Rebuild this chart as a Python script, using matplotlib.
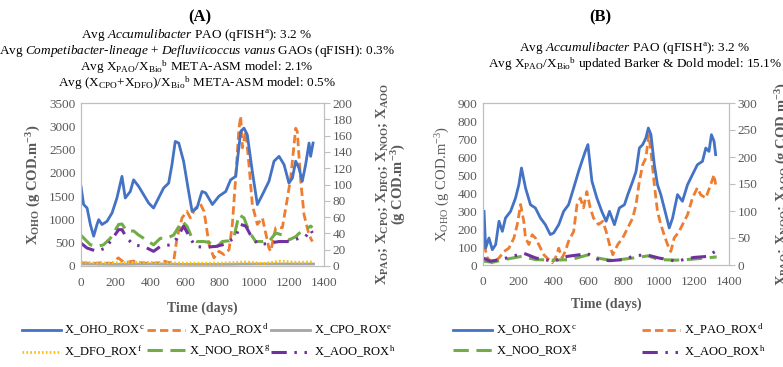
import numpy as np
from matplotlib import pyplot as plt

plt.rcParams['font.family'] = ['Liberation Serif', 'DejaVu Serif']
plt.rcParams['mathtext.fontset'] = 'custom'
plt.rcParams['mathtext.rm'] = 'Liberation Serif'
plt.rcParams['mathtext.it'] = 'Liberation Serif:italic'
plt.rcParams['mathtext.bf'] = 'Liberation Serif:bold'

# ---------------- panel A data ----------------
a_oho_t = [0, 15, 35, 54, 73, 92, 102, 121, 150, 179, 207, 236, 255, 284, 303, 332, 361, 390, 418, 447,
           476, 505, 524, 543, 563, 591, 620, 640, 668, 697, 718, 757, 795, 834, 862, 891, 920, 939, 958,
           987, 1016, 1045, 1083, 1112, 1141, 1170, 1198, 1218, 1237, 1256, 1275, 1294, 1314, 1323, 1337]
a_oho = [1710, 1320, 1245, 890, 640, 890, 995, 890, 960, 1140, 1460, 1925, 1460, 1600, 1850, 1710, 1530,
         1350, 1245, 1460, 1675, 1780, 2175, 2675, 2640, 2250, 1600, 1175, 1245, 1600, 1570, 1320, 1500,
         1600, 1850, 1925, 2890, 2960, 2820, 2030, 1320, 1530, 1820, 2250, 2355, 2175, 1780, 1890, 2250,
         2100, 1820, 2175, 2640, 2355, 2640]

a_pao_t = [0, 60, 120, 180, 215, 250, 300, 350, 400, 450, 480, 510, 534, 553, 582, 610, 630, 659, 688,
           709, 738, 766, 795, 824, 853, 872, 891, 910, 920, 930, 949, 968, 987, 1016, 1045, 1083, 1093,
           1122, 1160, 1189, 1208, 1237, 1246, 1266, 1285, 1314, 1333]
a_pao = [4, 3, 4, 3, 10, 4, 6, 4, 3, 4, 6, 4, 6, 34, 59, 67, 59, 71, 76, 67, 26, 10, 18, 14, 20, 51, 108,
         169, 184, 145, 165, 124, 75, 51, 59, 22, 18, 47, 47, 83, 108, 169, 165, 104, 63, 38, 30]

a_cpo_t = [0, 200, 400, 600, 800, 1000, 1200, 1340]
a_cpo = [2.5, 2, 2.5, 2, 2, 2.5, 2.5, 2.5]

a_dfo_t = [0, 100, 200, 300, 400, 500, 600, 700, 800, 950, 1050, 1150, 1250, 1340]
a_dfo = [5, 3.5, 4, 4.5, 4.5, 4, 3.5, 3.5, 3.5, 5, 3, 6, 4.5, 5]

a_noo_t = [0, 54, 92, 130, 169, 217, 236, 265, 303, 332, 361, 418, 457, 495, 534, 582, 610, 640, 668, 707,
           738, 776, 814, 853, 882, 910, 939, 968, 1006, 1045, 1083, 1122, 1160, 1198, 1237, 1256, 1294,
           1323, 1333]
a_noo = [37.6, 26, 24, 26, 34, 51, 51.5, 42.5, 43, 38, 34, 26, 34, 34, 38, 55, 49, 34, 30, 30, 29, 22, 30,
         31, 36, 63, 59, 42.5, 30, 30, 30, 40.5, 38, 32, 36, 40, 44.6, 49, 47]

a_aoo_t = [0, 35, 92, 140, 169, 217, 236, 265, 303, 361, 418, 457, 515, 553, 591, 630, 659, 707, 776, 834,
           891, 920, 949, 987, 1026, 1083, 1141, 1198, 1256, 1294, 1323, 1333]
a_aoo = [28, 22, 18, 22, 30, 44.6, 44.6, 34, 26, 24, 18, 24, 26, 34, 49, 34, 24, 23, 24, 27, 36, 51, 49,
         34, 26, 28, 30, 30, 34, 36, 44.6, 40.5]

# ---------------- panel B data ----------------
b_oho_t = [6, 15, 34, 53, 72, 91, 110, 128, 157, 185, 204, 219, 242, 270, 298, 327, 355, 383, 402, 431,
           459, 487, 516, 544, 563, 582, 597, 620, 648, 676, 701, 720, 748, 776, 805, 824, 852, 871, 890,
           909, 927, 941, 956, 975, 993, 1012, 1041, 1060, 1079, 1107, 1135, 1164, 1192, 1220, 1249, 1268,
           1286, 1300, 1315, 1324]
b_oho = [298, 94, 150, 85, 113, 243, 187, 261, 298, 372, 446, 539, 428, 335, 317, 261, 224, 169, 178, 224,
         298, 335, 428, 520, 576, 631, 669, 465, 372, 298, 243, 298, 224, 317, 335, 391, 465, 520, 650, 669,
         706, 761, 724, 557, 446, 391, 280, 206, 261, 391, 354, 446, 502, 557, 576, 650, 631, 724, 687, 613]

b_pao_t = [6, 25, 53, 91, 119, 147, 176, 195, 214, 232, 242, 261, 280, 298, 317, 346, 365, 393, 412, 431,
           450, 468, 487, 516, 535, 554, 572, 591, 610, 629, 657, 682, 701, 720, 739, 767, 795, 824, 852,
           871, 890, 909, 927, 943, 956, 975, 993, 1012, 1031, 1050, 1069, 1088, 1116, 1145, 1164, 1192,
           1220, 1239, 1268, 1296, 1315, 1324]
b_pao = [38, 13, 4, 13, 25, 31, 50, 75, 112, 81, 50, 38, 56, 50, 38, 19, 13, 4, 13, 31, 13, 25, 44, 62,
         112, 124, 106, 136, 106, 87, 75, 81, 62, 38, 19, 38, 50, 69, 87, 112, 155, 186, 198, 241, 210, 149,
         99, 75, 56, 38, 25, 50, 62, 81, 93, 124, 143, 130, 124, 149, 167, 149]

b_noo_t = [6, 53, 119, 220, 300, 400, 500, 600, 650, 720, 780, 880, 940, 1000, 1100, 1200, 1300, 1330]
b_noo = [7, 5, 10, 16, 10, 9, 10, 19, 13, 9, 10, 14, 17, 10, 9, 11, 14, 15]

b_aoo_t = [0, 40, 100, 200, 230, 300, 350, 400, 480, 550, 590, 650, 720, 800, 860, 930, 1000, 1050, 1100,
           1200, 1280, 1320, 1330]
b_aoo = [13, 7, 10, 19, 22, 13, 10, 7, 16, 19, 22, 11, 8, 10, 17, 19, 13, 10, 7, 14, 16, 25, 24]

c_blue, c_orange, c_gray = '#4472C4', '#ED7D31', '#A5A5A5'
c_yellow, c_green, c_purple = '#FFC000', '#70AD47', '#7030A0'
tick_gray = '#595959'
spine_gray = '#BFBFBF'

fig = plt.figure(figsize=(7.83, 3.67), dpi=100)


def style_axes(ax, ax2, ymax_l, step_l, ymax_r, step_r):
    ax.set_xlim(0, 1400)
    ax.set_xticks(np.arange(0, 1401, 200))
    ax.set_ylim(0, ymax_l)
    ax.set_yticks(np.arange(0, ymax_l + 1, step_l))
    ax2.set_ylim(0, ymax_r)
    ax2.set_yticks(np.arange(0, ymax_r + 1, step_r))
    for a in (ax, ax2):
        for s in a.spines.values():
            s.set_color(spine_gray)
            s.set_linewidth(0.8)
        a.tick_params(labelsize=9.5, colors=tick_gray)
    ax.tick_params(axis='y', length=0, pad=4)
    ax.tick_params(axis='x', length=0, pad=8)
    ax2.tick_params(axis='y', length=4, width=0.8, color=spine_gray, direction='out', pad=2)


# ---------------- panel A ----------------
axA = fig.add_axes([81 / 783, 101 / 367, 243 / 783, 163 / 367])
axA2 = axA.twinx()
l_oho, = axA.plot(a_oho_t, a_oho, color=c_blue, lw=2)
l_pao, = axA2.plot(a_pao_t, a_pao, color=c_orange, lw=2, ls=(0, (3, 1.5)))
l_cpo, = axA2.plot(a_cpo_t, a_cpo, color=c_gray, lw=2)
l_dfo, = axA2.plot(a_dfo_t, a_dfo, color=c_yellow, lw=2, ls=(0, (0.6, 0.8)))
l_noo, = axA2.plot(a_noo_t, a_noo, color=c_green, lw=2.2, ls=(0, (5, 2.5)))
l_aoo, = axA2.plot(a_aoo_t, a_aoo, color=c_purple, lw=2.2, ls=(0, (5, 2.5, 0.8, 2.5, 0.8, 2.5)))
axA.set_zorder(axA2.get_zorder() + 1)
axA.patch.set_visible(False)
style_axes(axA, axA2, 3500, 500, 200, 20)
axA.set_xlabel('Time (days)', fontsize=10, fontweight='bold', color=tick_gray, labelpad=9)
axA.set_ylabel(r'X$_{\mathbf{OHO}}$ (g COD.m$^{\mathbf{-3}}$)', fontsize=10.5, fontweight='bold',
               color=tick_gray, labelpad=4)
axA2.set_ylabel('X$_{\\mathbf{PAO}}$; X$_{\\mathbf{CPO}}$; X$_{\\mathbf{DFO}}$; X$_{\\mathbf{NOO}}$; '
                'X$_{\\mathbf{AOO}}$\n(g COD.m$^{\\mathbf{-3}}$)', fontsize=10.5, fontweight='bold',
                color=tick_gray, labelpad=16, multialignment='center', linespacing=1.0)

fig.text(200 / 783, 1 - 17 / 367, '(A)', ha='center', va='center', fontsize=12, fontweight='bold')
a_lines = [r'Avg $\mathit{Accumulibacter}$ PAO (qFISH$^{\mathrm{a}}$): 3.2 %',
           r'Avg $\mathit{Competibacter}$-$\mathit{lineage}$ + $\mathit{Defluviicoccus\ vanus}$ GAOs (qFISH): 0.3%',
           r'Avg X$_{\mathrm{PAO}}$/X$_{\mathrm{Bio}}$$^{\mathrm{b}}$ META-ASM model: 2.1%',
           r'Avg (X$_{\mathrm{CPO}}$+X$_{\mathrm{DFO}}$)/X$_{\mathrm{Bio}}$$^{\mathrm{b}}$ META-ASM model: 0.5%']
for i, s in enumerate(a_lines):
    fig.text(197 / 783, 1 - (35 + 16 * i) / 367, s, ha='center', va='center', fontsize=9.5)

fig.legend([l_oho, l_dfo, l_pao, l_noo, l_cpo, l_aoo],
           ['X_OHO_ROX$^{\\mathrm{c}}$', 'X_DFO_ROX$^{\\mathrm{f}}$', 'X_PAO_ROX$^{\\mathrm{d}}$',
            'X_NOO_ROX$^{\\mathrm{g}}$', 'X_CPO_ROX$^{\\mathrm{e}}$', 'X_AOO_ROX$^{\\mathrm{h}}$'],
           loc='upper left', bbox_to_anchor=(22 / 783, 1 - 322 / 367), ncol=3, frameon=False,
           fontsize=9, handlelength=3.1, handletextpad=0.3, columnspacing=0.1, labelspacing=0.45,
           borderaxespad=0, borderpad=0)

# ---------------- panel B ----------------
axB = fig.add_axes([483 / 783, 102 / 367, 246 / 783, 162 / 367])
axB2 = axB.twinx()
m_oho, = axB.plot(b_oho_t, b_oho, color=c_blue, lw=2)
m_pao, = axB2.plot(b_pao_t, b_pao, color=c_orange, lw=2, ls=(0, (3, 1.5)))
m_noo, = axB2.plot(b_noo_t, b_noo, color=c_green, lw=2.2, ls=(0, (5, 2.5)))
m_aoo, = axB2.plot(b_aoo_t, b_aoo, color=c_purple, lw=2.2, ls=(0, (5, 2.5, 0.8, 2.5, 0.8, 2.5)))
axB.set_zorder(axB2.get_zorder() + 1)
axB.patch.set_visible(False)
style_axes(axB, axB2, 900, 100, 300, 50)
axB.set_xlabel('Time (days)', fontsize=10, fontweight='bold', color=tick_gray, labelpad=7)
axB.set_ylabel(r'X$_{\mathrm{OHO}}$ (g COD.m$^{\mathrm{-3}}$)', fontsize=10.5, color=tick_gray, labelpad=4)
axB2.set_ylabel(r'X$_{\mathbf{PAO}}$; X$_{\mathbf{NOO}}$; X$_{\mathbf{AOO}}$ (g COD.m$^{\mathbf{-3}}$)',
                fontsize=10.5, fontweight='bold', color=tick_gray, labelpad=12)

fig.text(600 / 783, 1 - 17 / 367, '(B)', ha='center', va='center', fontsize=12, fontweight='bold')
b_lines = [r'Avg $\mathit{Accumulibacter}$ PAO (qFISH$^{\mathrm{a}}$): 3.2 %',
           r'Avg X$_{\mathrm{PAO}}$/X$_{\mathrm{Bio}}$$^{\mathrm{b}}$ updated Barker & Dold model: 15.1%']
for i, s in enumerate(b_lines):
    fig.text(635 / 783, 1 - (48 + 16 * i) / 367, s, ha='center', va='center', fontsize=9.5)

fig.legend([m_oho, m_noo, m_pao, m_aoo],
           ['X_OHO_ROX$^{\\mathrm{c}}$', 'X_NOO_ROX$^{\\mathrm{g}}$', 'X_PAO_ROX$^{\\mathrm{d}}$',
            'X_AOO_ROX$^{\\mathrm{h}}$'],
           loc='upper left', bbox_to_anchor=(453 / 783, 1 - 322 / 367), ncol=2, frameon=False,
           fontsize=9, handlelength=3.1, handletextpad=0.3, columnspacing=5.2, labelspacing=0.45,
           borderaxespad=0, borderpad=0)

fig.savefig('out.png', dpi=100)
